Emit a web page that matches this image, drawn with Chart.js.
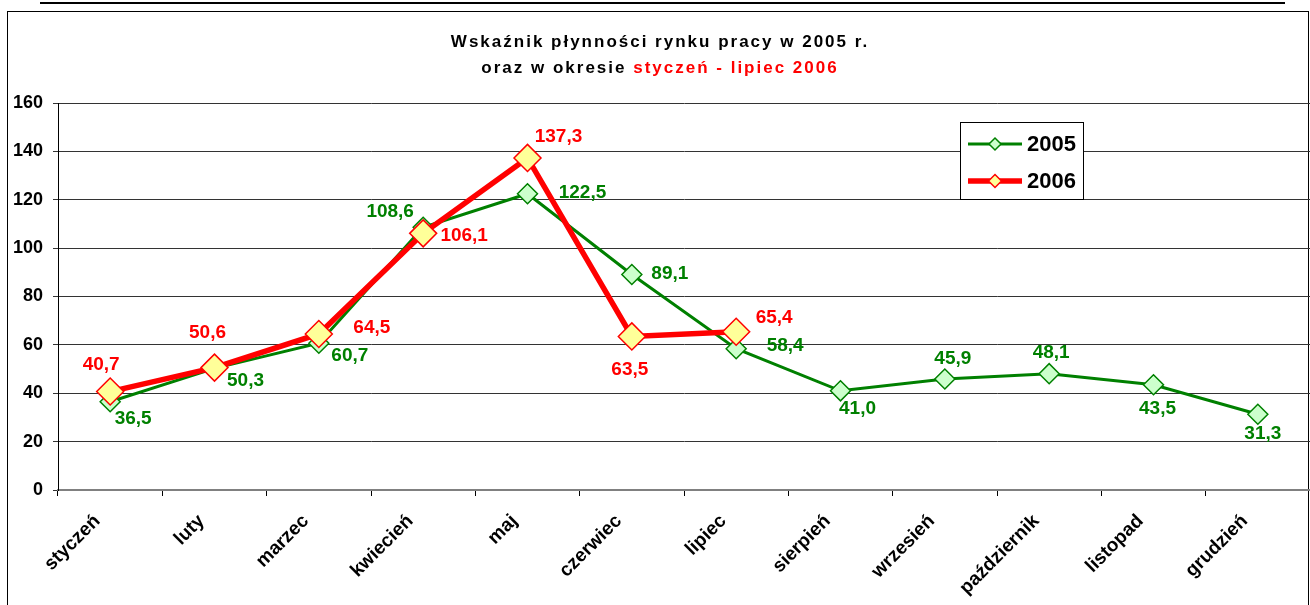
<!DOCTYPE html>
<html>
<head>
<meta charset="utf-8">
<script src="https://cdn.jsdelivr.net/npm/chart.js@4.4.0/dist/chart.umd.min.js"></script>
<style>
  body { margin: 0; background: #fff; font-family: "Liberation Sans", Arial, sans-serif; }
  #wrap { position: relative; width: 1310px; height: 605px; overflow: hidden; }
  #rule { position: absolute; left: 40px; top: 2px; width: 1245px; height: 2px; background: #000; }
  #frame { position: absolute; left: 7px; top: 11px; width: 1300px; height: 700px; border: 1.5px solid #000; }
  #title { position: absolute; left: 0; top: 29px; width: 1320px; text-align: center;
           font-weight: bold; font-size: 17px; line-height: 26px; letter-spacing: 2px; color: #000; }
  #title .red { color: #ff0000; }
  canvas { position: absolute; left: 0; top: 0; }
</style>
</head>
<body>
<div id="wrap">
  <div id="rule"></div>
  <div id="frame"></div>
  <canvas id="chart" width="1310" height="605"></canvas>
  <div id="title">Wskaźnik płynności rynku pracy w 2005 r.<br>oraz w okresie <span class="red">styczeń - lipiec 2006</span></div>
</div>
<script>
const months = ['styczeń', 'luty', 'marzec', 'kwiecień', 'maj', 'czerwiec',
                'lipiec', 'sierpień', 'wrzesień', 'październik', 'listopad', 'grudzień'];
const values2005 = [36.5, 50.3, 60.7, 108.6, 122.5, 89.1, 58.4, 41.0, 45.9, 48.1, 43.5, 31.3];
const values2006 = [40.7, 50.6, 64.5, 106.1, 137.3, 63.5, 65.4];
const seriesNames = ['2005', '2006'];
const yTicks = [0, 20, 40, 60, 80, 100, 120, 140, 160];

// label offsets from each point (px), to mimic Excel placement
const labelOffsets = [
  [[23, 17], [31, 12], [31, 13], [-33, -16], [55, -1], [38, -1], [49, -3], [17, 18], [8, -20], [2, -21], [4, 24], [5, 19]],
  [[-9, -27], [-7, -35], [53, -6], [41, 2], [31, -21], [-2, 33], [38, -14]]
];

const valueLabels = {
  id: 'valueLabels',
  afterDatasetsDraw(chart) {
    const ctx = chart.ctx;
    ctx.save();
    ctx.font = 'bold 19px "Liberation Sans", Arial, sans-serif';
    ctx.textAlign = 'center';
    ctx.textBaseline = 'middle';
    chart.data.datasets.forEach((ds, di) => {
      ctx.fillStyle = ds.labelColor;
      chart.getDatasetMeta(di).data.forEach((pt, i) => {
        const off = labelOffsets[di][i];
        ctx.fillText(ds.data[i].toFixed(1).replace('.', ','), pt.x + off[0], pt.y + off[1]);
      });
    });
    ctx.restore();
  }
};

const boxLegend = {
  id: 'boxLegend',
  afterDraw(chart) {
    const ctx = chart.ctx;
    const x0 = 960, y0 = 122, w = 123, h = 77;
    ctx.save();
    ctx.fillStyle = '#fff';
    ctx.fillRect(x0, y0, w, h);
    ctx.strokeStyle = '#000';
    ctx.lineWidth = 1;
    ctx.strokeRect(x0 + 0.5, y0 + 0.5, w, h);
    chart.data.datasets.forEach((ds, di) => {
      const y = y0 + 22 + di * 37;
      ctx.strokeStyle = ds.borderColor;
      ctx.lineWidth = ds.borderWidth;
      ctx.beginPath();
      ctx.moveTo(x0 + 8, y);
      ctx.lineTo(x0 + 62, y);
      ctx.stroke();
      const r = di === 0 ? 6 : 6.5;
      const cx = x0 + 35;
      ctx.beginPath();
      ctx.moveTo(cx - r, y); ctx.lineTo(cx, y - r); ctx.lineTo(cx + r, y); ctx.lineTo(cx, y + r);
      ctx.closePath();
      ctx.fillStyle = ds.pointBackgroundColor;
      ctx.fill();
      ctx.lineWidth = 1.5;
      ctx.strokeStyle = ds.pointBorderColor;
      ctx.stroke();
      ctx.fillStyle = '#000';
      ctx.font = 'bold 22px "Liberation Sans", Arial, sans-serif';
      ctx.textAlign = 'left';
      ctx.textBaseline = 'middle';
      ctx.fillText(ds.label, x0 + 67, y + 1);
    });
    ctx.restore();
  }
};

new Chart(document.getElementById('chart'), {
  type: 'line',
  data: {
    labels: months,
    datasets: [{
      label: seriesNames[0],
      data: values2005,
      borderColor: '#008000',
      borderWidth: 3,
      pointStyle: 'rectRot',
      pointRadius: 10,
      pointBackgroundColor: '#ccffcc',
      pointBorderColor: '#008000',
      pointBorderWidth: 1.5,
      labelColor: '#008000',
      tension: 0,
      order: 1
    }, {
      label: seriesNames[1],
      data: values2006,
      borderColor: '#ff0000',
      borderWidth: 5.5,
      pointStyle: 'rectRot',
      pointRadius: 13.5,
      pointBackgroundColor: '#ffff99',
      pointBorderColor: '#ff0000',
      pointBorderWidth: 1.5,
      labelColor: '#ff0000',
      tension: 0,
      order: 0
    }]
  },
  options: {
    responsive: false,
    animation: false,
    layout: { padding: { top: 103, left: 0, right: 0, bottom: 0 }, autoPadding: false },
    plugins: {
      legend: { display: false },
      title: { display: false },
      tooltip: { enabled: false }
    },
    scales: {
      x: {
        offset: true,
        grid: { display: true, drawOnChartArea: false, drawTicks: true, tickLength: 6, offset: true, color: '#000' },
        border: { display: true, color: '#808080', width: 2 },
        ticks: {
          color: '#000',
          font: { family: '"Liberation Sans", Arial, sans-serif', size: 19, weight: 'bold' },
          minRotation: 45, maxRotation: 45, autoSkip: false, padding: 14, labelOffset: -13
        },
        afterFit(s) { s.height = 115; }
      },
      y: {
        min: 0, max: 160,
        afterBuildTicks(s) { s.ticks = yTicks.map(v => ({ value: v })); },
        grid: { color: '#333', lineWidth: 1, drawTicks: true, tickLength: 5 },
        border: { display: true, color: '#000', width: 1 },
        ticks: {
          color: '#000',
          font: { family: '"Liberation Sans", Arial, sans-serif', size: 18, weight: 'bold' },
          padding: 10
        },
        afterFit(s) { s.width = 58; }
      }
    }
  },
  plugins: [valueLabels, boxLegend]
});
</script>
</body>
</html>
